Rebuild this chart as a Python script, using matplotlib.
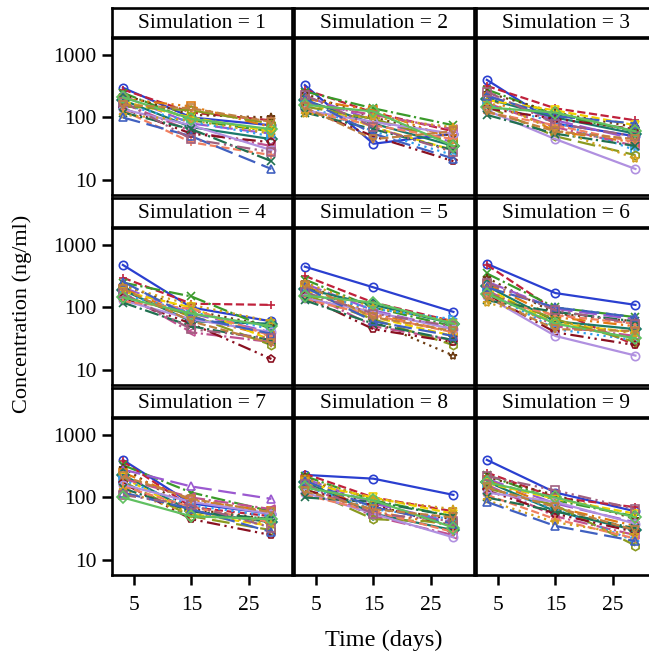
import matplotlib
matplotlib.use('Agg')
import matplotlib.pyplot as plt

# sampling days
days = [3, 15, 29]

# concentrations (ng/ml) per subject at day 3, 15, 29
sim1 = [(300, 100, 75), (280, 120, 90), (250, 90, 60), (230, 110, 100), (220, 80, 55),
        (200, 150, 70), (190, 70, 45), (180, 100, 60), (170, 60, 35), (160, 85, 50),
        (150, 130, 80), (140, 55, 40), (135, 75, 30), (130, 40, 25), (120, 65, 20),
        (110, 90, 55), (100, 50, 15), (180, 45, 28), (210, 95, 65), (160, 140, 85)]
sim2 = [(330, 38, 55), (280, 120, 60), (260, 140, 75), (240, 100, 50), (220, 90, 40),
        (200, 130, 45), (190, 80, 35), (180, 70, 30), (170, 110, 65), (160, 60, 25),
        (150, 95, 40), (140, 50, 20), (130, 85, 55), (125, 75, 45), (120, 65, 30),
        (115, 100, 70), (200, 55, 22), (230, 70, 28), (160, 125, 35), (145, 45, 60)]
sim3 = [(400, 80, 50), (320, 140, 90), (280, 110, 60), (250, 120, 70), (230, 90, 45),
        (210, 60, 40), (200, 100, 55), (190, 130, 75), (170, 70, 35), (160, 85, 30),
        (150, 50, 25), (140, 95, 65), (130, 45, 15), (120, 75, 40), (110, 55, 35),
        (180, 65, 22), (220, 105, 80), (260, 80, 50), (145, 120, 60), (125, 60, 45)]
sim4 = [(480, 100, 60), (300, 115, 110), (250, 150, 45), (230, 90, 50), (210, 80, 40),
        (200, 70, 35), (190, 60, 55), (180, 100, 30), (170, 40, 28), (160, 85, 45),
        (150, 75, 25), (140, 55, 15), (130, 65, 40), (125, 95, 35), (120, 50, 30),
        (220, 110, 60), (260, 70, 38), (170, 45, 32), (145, 80, 50), (200, 60, 27)]
sim5 = [(450, 210, 85), (320, 120, 60), (280, 100, 50), (260, 60, 17), (240, 90, 45),
        (220, 80, 40), (200, 110, 55), (190, 70, 35), (180, 50, 30), (170, 95, 65),
        (160, 65, 25), (150, 45, 28), (140, 85, 45), (135, 75, 40), (130, 55, 30),
        (250, 100, 60), (210, 60, 35), (175, 80, 50), (155, 120, 55), (230, 70, 42)]
sim6 = [(500, 170, 110), (480, 90, 25), (350, 100, 70), (300, 80, 60), (260, 95, 65),
        (240, 70, 50), (220, 60, 45), (200, 55, 40), (190, 50, 35), (180, 45, 30),
        (170, 65, 28), (160, 40, 25), (150, 35, 17), (140, 75, 55), (130, 85, 60),
        (120, 60, 38), (210, 100, 70), (250, 90, 55), (165, 55, 32), (145, 45, 42)]
sim7 = [(400, 80, 55), (380, 70, 50), (330, 120, 60), (300, 65, 45), (280, 150, 95),
        (250, 90, 60), (230, 60, 40), (210, 55, 35), (200, 100, 65), (190, 75, 50),
        (180, 50, 30), (170, 45, 25), (160, 85, 55), (150, 70, 40), (140, 60, 45),
        (130, 55, 38), (120, 65, 28), (110, 75, 33), (100, 50, 45), (220, 95, 58)]
sim8 = [(230, 200, 110), (240, 100, 60), (220, 90, 50), (210, 70, 45), (200, 80, 40),
        (190, 60, 35), (180, 55, 30), (170, 100, 55), (160, 50, 25), (150, 65, 45),
        (140, 45, 40), (130, 75, 35), (120, 55, 23), (110, 60, 28), (100, 85, 50),
        (200, 95, 65), (185, 70, 38), (165, 55, 42), (145, 90, 33), (125, 65, 48)]
sim9 = [(400, 120, 60), (250, 100, 70), (230, 90, 50), (210, 110, 45), (200, 80, 40),
        (190, 70, 35), (180, 60, 30), (170, 95, 55), (160, 50, 25), (150, 65, 20),
        (140, 75, 17), (130, 55, 28), (120, 85, 38), (110, 45, 22), (100, 60, 32),
        (90, 40, 25), (85, 35, 20), (220, 130, 65), (175, 100, 48), (145, 70, 30)]

simulations = [sim1, sim2, sim3, sim4, sim5, sim6, sim7, sim8, sim9]

colors = ['#2a3fd0', '#c0213b', '#3a9a2a', '#6b3a10', '#9b59d0', '#e07a10', '#1a7a6a',
          '#f0d000', '#c05090', '#30a0f0', '#8a9a20', '#8a1020', '#b090e0', '#f08060',
          '#207050', '#d0a020', '#4060c0', '#a06080', '#60c060', '#c08040']
styles = ['-', '--', '-.', (0, (1, 2)), (0, (8, 3)), (0, (6, 2, 1, 2, 1, 2))]
markers = ['o', '+', 'x', '*', '^', 's', 'D', 'v', '<', '>', 'h', 'p']

plt.rcParams['font.family'] = ['Liberation Serif', 'DejaVu Serif']

W, H = 649, 660
fig = plt.figure(figsize=(W / 100, H / 100), dpi=100)


def rect(left, top, width, height):
    return [left / W, 1 - (top + height) / H, width / W, height / H]


col_left = [112, 294, 476]
row_top = [8, 198, 388]
panel_w = 180
head_h = 29
plot_h = 157

for i, sim in enumerate(simulations):
    r, c = divmod(i, 3)
    hx = fig.add_axes(rect(col_left[c], row_top[r], panel_w, head_h))
    hx.set_xticks([])
    hx.set_yticks([])
    for sp in hx.spines.values():
        sp.set_linewidth(1.9)
    hx.text(0.5, 0.45, 'Simulation = %d' % (i + 1), ha='center', va='center',
            fontsize=15.5, transform=hx.transAxes)

    ax = fig.add_axes(rect(col_left[c], row_top[r] + head_h + 1, panel_w, plot_h))
    for j, vals in enumerate(sim):
        ax.plot(days, vals, color=colors[j % len(colors)],
                linestyle=styles[j % len(styles)], linewidth=1.6,
                marker=markers[j % len(markers)], markersize=6,
                markerfacecolor='none', markeredgewidth=1.2)
    ax.set_yscale('log')
    ax.set_ylim(5.75, 1870)
    ax.set_xlim(1.1, 32.6)
    ax.set_yticks([10, 100, 1000])
    ax.set_xticks([5, 15, 25])
    ax.minorticks_off()
    for sp in ax.spines.values():
        sp.set_linewidth(1.9)
    ax.tick_params(direction='out', length=7, width=1.8, labelsize=15.5, pad=4)
    if c == 0:
        ax.set_yticklabels(['10', '100', '1000'])
    else:
        ax.tick_params(axis='y', left=False, labelleft=False)
    if r == 2:
        ax.set_xticklabels(['5', '15', '25'])
        ax.tick_params(axis='x', pad=8)
    else:
        ax.tick_params(axis='x', bottom=False, labelbottom=False)

fig.text(22 / W, 1 - 314 / H, 'Concentration (ng/ml)', rotation=90, ha='center',
         va='center', fontsize=16)
fig.text(384 / W, 1 - 640 / H, 'Time (days)', ha='center', va='center', fontsize=17.5)

fig.savefig('out.png', dpi=100)
